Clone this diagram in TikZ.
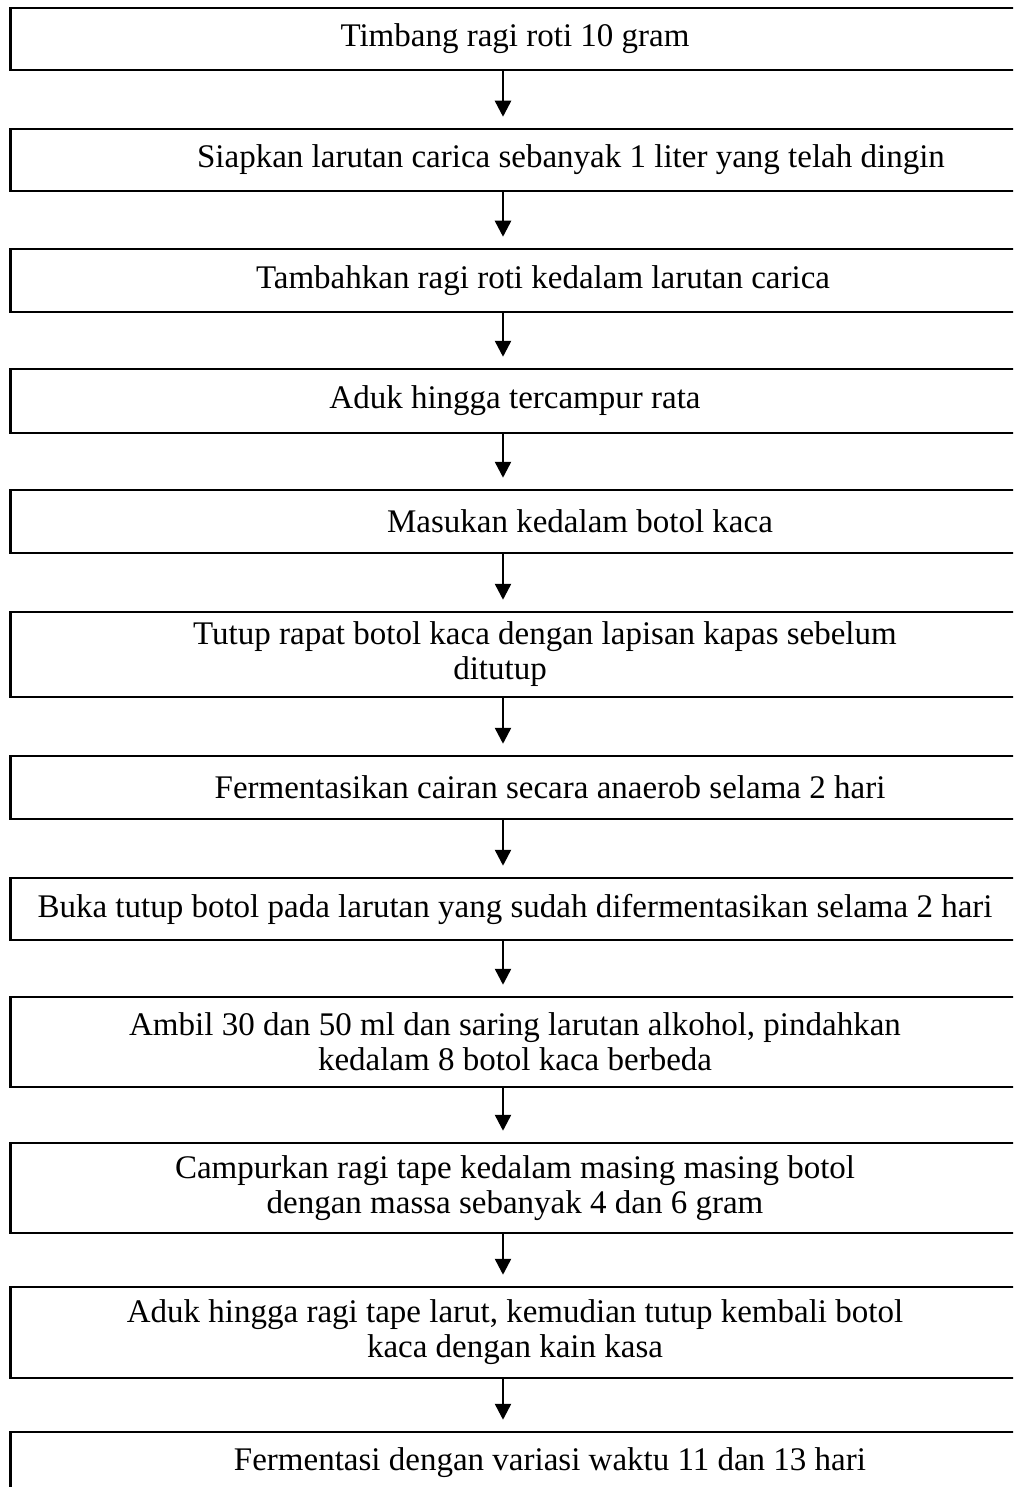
\documentclass[tikz,border=0pt]{standalone}
\usepackage{fontspec}
\setmainfont{Liberation Serif}
\usetikzlibrary{arrows.meta}
\tikzset{
  stepbox/.style={draw, line width=2.5pt, minimum width=1009.5pt, inner sep=2pt,
    align=center, font=\fontsize{33}{35}\selectfont},
  flow/.style={-{Triangle[width=16pt,length=16pt]}, line width=2.5pt}
}
\begin{document}
\begin{tikzpicture}[x=1pt,y=1pt]
  \path[use as bounding box, clip] (0,0) rectangle (1013,-1487);

  \node[stepbox, minimum height=62] (s1) at (515,-39) {Timbang ragi roti 10 gram};
  \node[stepbox, minimum height=62] (s2) at (515,-160) {\hspace*{112pt}Siapkan larutan carica sebanyak 1 liter yang telah dingin};
  \node[stepbox, minimum height=63] (s3) at (515,-280.5) {\hspace*{56pt}Tambahkan ragi roti kedalam larutan carica};
  \node[stepbox, minimum height=64] (s4) at (515,-401) {Aduk hingga tercampur rata};
  \node[stepbox, minimum height=63] (s5) at (515,-521.5) {\hspace*{130pt}Masukan kedalam botol kaca};
  \node[stepbox, minimum height=85] (s6) at (515,-654.5) {\hspace*{60pt}Tutup rapat botol kaca dengan lapisan kapas sebelum\\ ditutup\hspace*{30pt}};
  \node[stepbox, minimum height=63] (s7) at (515,-787.5) {\hspace*{70pt}Fermentasikan cairan secara anaerob selama 2 hari};
  \node[stepbox, minimum height=62] (s8) at (515,-909) {Buka tutup botol pada larutan yang sudah difermentasikan selama 2 hari};
  \node[stepbox, minimum height=90] (s9) at (515,-1042) {Ambil 30 dan 50 ml dan saring larutan alkohol, pindahkan\\ kedalam 8 botol kaca berbeda};
  \node[stepbox, minimum height=90] (s10) at (515,-1188) {Campurkan ragi tape kedalam masing masing botol\\ dengan massa sebanyak 4 dan 6 gram};
  \node[stepbox, minimum height=91] (s11) at (515,-1332.5) {Aduk hingga ragi tape larut, kemudian tutup kembali botol\\ kaca dengan kain kasa};
  \node[stepbox, minimum height=62] (s12) at (515,-1463) {\hspace*{70pt}Fermentasi dengan variasi waktu 11 dan 13 hari};

  % arrows between the steps
  \foreach \a/\b in {1/2,2/3,3/4,4/5,5/6,6/7,7/8,8/9,9/10,10/11,11/12}
    \draw[flow] ([xshift=-12pt]s\a.south) -- ([xshift=-12pt,yshift=11pt]s\b.north);
\end{tikzpicture}
\end{document}
